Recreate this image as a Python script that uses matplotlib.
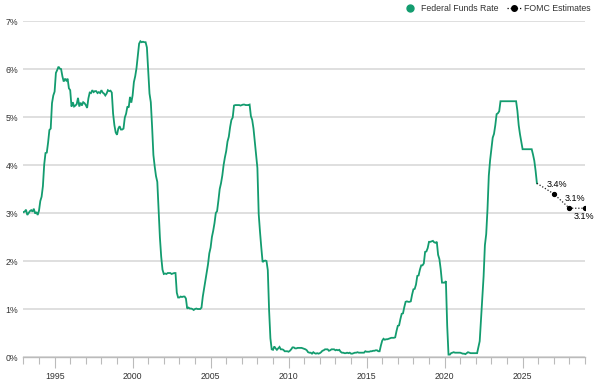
import numpy as np
import matplotlib as mpl
mpl.use('Agg')
import matplotlib.pyplot as plt
from matplotlib.lines import Line2D

plt.rcParams['font.family'] = ['Liberation Sans', 'DejaVu Sans']

# --------------------------
# Data: monthly effective fed funds rate (%), Jan 1993 .. Dec 2025
# --------------------------
start_year = 1993
fed_funds = [
    3.02, 3.03, 3.07, 2.96, 3.00, 3.04, 3.06, 3.03, 3.09, 2.99, 3.02, 2.96,  # 1993
    3.05, 3.25, 3.34, 3.56, 4.01, 4.25, 4.26, 4.47, 4.73, 4.76, 5.29, 5.45,  # 1994
    5.53, 5.92, 5.98, 6.05, 6.01, 6.00, 5.85, 5.74, 5.80, 5.76, 5.80, 5.60,  # 1995
    5.56, 5.22, 5.31, 5.22, 5.24, 5.27, 5.40, 5.22, 5.30, 5.24, 5.31, 5.29,  # 1996
    5.25, 5.19, 5.39, 5.51, 5.50, 5.56, 5.52, 5.54, 5.54, 5.50, 5.52, 5.50,  # 1997
    5.56, 5.51, 5.49, 5.45, 5.49, 5.56, 5.54, 5.55, 5.51, 5.07, 4.83, 4.68,  # 1998
    4.63, 4.76, 4.81, 4.74, 4.74, 4.76, 4.99, 5.07, 5.22, 5.20, 5.42, 5.30,  # 1999
    5.45, 5.73, 5.85, 6.02, 6.27, 6.53, 6.58, 6.56, 6.57, 6.56, 6.56, 6.45,  # 2000
    5.98, 5.49, 5.31, 4.80, 4.21, 3.97, 3.77, 3.65, 3.07, 2.49, 2.09, 1.82,  # 2001
    1.73, 1.74, 1.73, 1.75, 1.75, 1.75, 1.73, 1.74, 1.75, 1.75, 1.34, 1.24,  # 2002
    1.24, 1.26, 1.25, 1.26, 1.26, 1.22, 1.01, 1.03, 1.01, 1.01, 1.00, 0.98,  # 2003
    1.00, 1.01, 1.00, 1.00, 1.00, 1.03, 1.26, 1.43, 1.61, 1.76, 1.93, 2.16,  # 2004
    2.28, 2.50, 2.63, 2.79, 3.00, 3.04, 3.26, 3.50, 3.62, 3.78, 4.00, 4.16,  # 2005
    4.29, 4.49, 4.59, 4.79, 4.94, 4.99, 5.24, 5.25, 5.25, 5.25, 5.25, 5.24,  # 2006
    5.25, 5.26, 5.26, 5.25, 5.25, 5.25, 5.26, 5.02, 4.94, 4.76, 4.49, 4.24,  # 2007
    3.94, 2.98, 2.61, 2.28, 1.98, 2.00, 2.01, 2.00, 1.81, 0.97, 0.39, 0.16,  # 2008
    0.15, 0.22, 0.18, 0.15, 0.18, 0.21, 0.16, 0.16, 0.15, 0.12, 0.12, 0.12,  # 2009
    0.11, 0.13, 0.16, 0.20, 0.20, 0.18, 0.18, 0.19, 0.19, 0.19, 0.19, 0.18,  # 2010
    0.17, 0.16, 0.14, 0.10, 0.09, 0.09, 0.07, 0.10, 0.08, 0.07, 0.08, 0.07,  # 2011
    0.08, 0.10, 0.13, 0.14, 0.16, 0.16, 0.16, 0.13, 0.14, 0.16, 0.16, 0.16,  # 2012
    0.14, 0.15, 0.14, 0.15, 0.11, 0.09, 0.09, 0.08, 0.08, 0.09, 0.08, 0.09,  # 2013
    0.07, 0.07, 0.08, 0.09, 0.09, 0.10, 0.09, 0.09, 0.09, 0.09, 0.09, 0.12,  # 2014
    0.11, 0.11, 0.11, 0.12, 0.12, 0.13, 0.13, 0.14, 0.14, 0.12, 0.12, 0.24,  # 2015
    0.34, 0.38, 0.36, 0.37, 0.37, 0.38, 0.39, 0.40, 0.40, 0.40, 0.41, 0.54,  # 2016
    0.65, 0.66, 0.79, 0.90, 0.91, 1.04, 1.15, 1.16, 1.15, 1.15, 1.16, 1.30,  # 2017
    1.41, 1.42, 1.51, 1.69, 1.70, 1.82, 1.91, 1.91, 1.95, 2.19, 2.20, 2.27,  # 2018
    2.40, 2.40, 2.41, 2.42, 2.39, 2.38, 2.40, 2.13, 2.04, 1.83, 1.55, 1.55,  # 2019
    1.55, 1.58, 0.65, 0.05, 0.05, 0.08, 0.09, 0.10, 0.09, 0.09, 0.09, 0.09,  # 2020
    0.09, 0.08, 0.07, 0.07, 0.06, 0.08, 0.10, 0.09, 0.08, 0.08, 0.08, 0.08,  # 2021
    0.08, 0.08, 0.20, 0.33, 0.77, 1.21, 1.68, 2.33, 2.56, 3.08, 3.78, 4.10,  # 2022
    4.33, 4.57, 4.65, 4.83, 5.06, 5.08, 5.12, 5.33, 5.33, 5.33, 5.33, 5.33,  # 2023
    5.33, 5.33, 5.33, 5.33, 5.33, 5.33, 5.33, 5.33, 5.13, 4.83, 4.64, 4.48,  # 2024
    4.33, 4.33, 4.33, 4.33, 4.33, 4.33, 4.33, 4.33, 4.22, 4.09, 3.88, 3.62,  # 2025
]

# FOMC median projections, plotted at year end
est_years = [2027.0, 2028.0, 2029.0]
est_values = [3.4, 3.1, 3.1]
est_labels = ["3.4%", "3.1%", "3.1%"]

green = '#139c6f'
grid_col = '#d9d9d9'
text_col = '#333333'

months = start_year + np.arange(len(fed_funds)) / 12.0

fig = plt.figure(figsize=(6.0, 3.87), dpi=100)
ax = fig.add_axes([0.039, 0.0775, 0.936, 0.868])

ax.plot(months, fed_funds, color=green, lw=1.3, solid_joinstyle='miter', zorder=3)

# estimates, joined to the last actual value
ex = [months[-1]] + est_years
ey = [fed_funds[-1]] + est_values
ax.plot(ex, ey, color='#222222', lw=0.9, ls=(0, (1, 1.5)), zorder=4)
ax.plot(est_years, est_values, 'o', color='black', ms=2.8, zorder=5)

# label offsets in pixels (dx, dy, vertical alignment)
offsets = [(3, 5, 'bottom'), (6, 5, 'bottom'), (-1, -4, 'top')]
for xv, yv, lab, (dx, dy, va) in zip(est_years, est_values, est_labels, offsets):
    ax.annotate(lab, (xv, yv), xytext=(dx, dy), textcoords='offset pixels',
                ha='center', va=va, fontsize=6.5, color='black', zorder=6)

# axes styling
ax.set_xlim(1993, 2029)
ax.set_ylim(0, 7)
ax.set_yticks(np.arange(0, 8, 1))
ax.set_yticklabels([f"{v}%" for v in range(8)])
ax.yaxis.grid(True, color=grid_col, lw=1.2)
ax.set_axisbelow(True)
for s in ['top', 'right', 'left']:
    ax.spines[s].set_visible(False)
ax.spines['bottom'].set_color('#bbbbbb')
ax.spines['bottom'].set_linewidth(1.0)
ax.tick_params(axis='y', length=0, pad=4, labelsize=6.3, labelcolor=text_col)

ax.set_xticks(np.arange(1995, 2029, 5))
ax.set_xticks(np.arange(1993, 2030, 1), minor=True)
ax.tick_params(axis='x', which='major', length=8, width=0.8, color='#bbbbbb',
               labelsize=6.3, labelcolor=text_col, pad=3)
ax.tick_params(axis='x', which='minor', length=5, width=0.8, color='#bbbbbb')

# legend
handles = [
    Line2D([], [], ls='none', marker='o', ms=5, color=green),
    Line2D([], [], ls=(0, (1, 1.5)), lw=0.9, marker='o', ms=4, color='black'),
]
fig.legend(handles, ["Federal Funds Rate", "FOMC Estimates"], loc='upper right',
           bbox_to_anchor=(0.998, 1.01), ncol=2, frameon=False, fontsize=6.3,
           handlelength=1.6, handletextpad=0.4, columnspacing=1.0,
           labelcolor=text_col)

plt.savefig("out.png", dpi=100)
plt.close()
